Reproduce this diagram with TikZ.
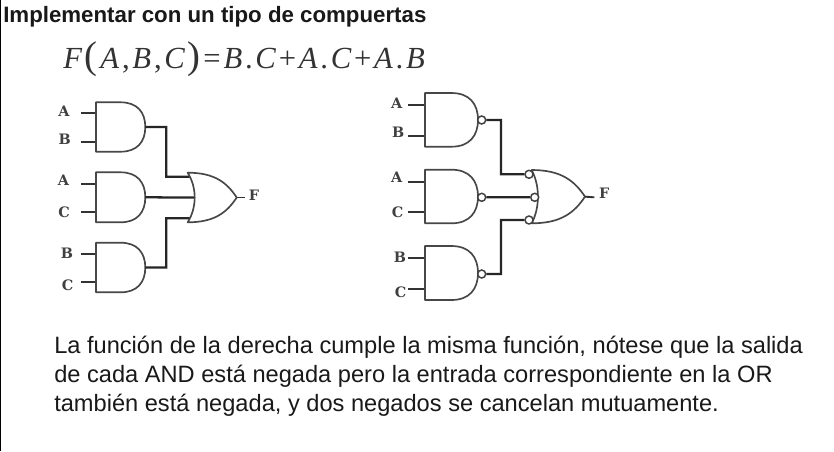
\documentclass[tikz,border=0pt]{standalone}
\usepackage{fontspec}
\setmainfont{Liberation Sans}
\newfontfamily\lblfont{DejaVu Serif}
\newfontfamily\eqfont{Liberation Serif}
\newcommand{\vi}[1]{{\itshape #1}\hspace{2.1pt}}
\newcommand{\vu}[1]{{\upshape #1}\hspace{2.1pt}}
\tikzset{x=1pt,y=-1pt,
 gate/.style={draw=black!72,line width=1.25pt,fill=white,line join=round},
 wire/.style={draw=black!85,line width=1.7pt},
 pin/.style={draw=black!80,line width=1.4pt},
 bub/.style={circle,draw=black!75,fill=white,line width=1.1pt,minimum size=6pt,inner sep=0pt},
 lbl/.style={font=\lblfont\bfseries\fontsize{10.8}{12}\selectfont,text=black!75,inner sep=0pt,anchor=center},
 para/.style={font=\fontsize{17.72}{23}\selectfont,text=black!90,inner sep=0pt,anchor=base west},
}
\newcommand{\andgate}[5]{% name,left,top,tip,bottom
 \path[gate] (#2,#3) -- ({#2+0.5*(#4-#2)},#3) .. controls ({#2+0.5*(#4-#2)+0.67*0.5*(#4-#2)},#3) and (#4,{#3+0.2*(#5-#3)}) .. (#4,{0.5*(#3+#5)}) .. controls (#4,{#5-0.2*(#5-#3)}) and ({#2+0.5*(#4-#2)+0.67*0.5*(#4-#2)},#5) .. ({#2+0.5*(#4-#2)},#5) -- (#2,#5) -- cycle;
 \coordinate (#1o) at (#4,{0.5*(#3+#5)});
}
\newcommand{\orgate}[6]{% name,backx,midx,top,tip,bottom
 \path[gate] (#2,#4) .. controls (#3,{#4+0.3*(#6-#4)}) and (#3,{#6-0.3*(#6-#4)}) .. (#2,#6)
  .. controls ({#2+0.55*(#5-#2)},#6) and ({#2+0.8*(#5-#2)},{#6-0.2*(#6-#4)}) .. (#5,{0.5*(#4+#6)})
  .. controls ({#2+0.8*(#5-#2)},{#4+0.2*(#6-#4)}) and ({#2+0.55*(#5-#2)},#4) .. (#2,#4) -- cycle;
 \coordinate (#1o) at (#5,{0.5*(#4+#6)});
}
\begin{document}
\begin{tikzpicture}
\useasboundingbox (0,0) rectangle (625.5,338.25);
\begin{scope}[scale=0.75]
\fill[white] (0,0) rectangle (834,451);
\draw[black,line width=2.2pt] (0,0) -- (0,451);
\node[inner sep=0pt,anchor=base west,font=\bfseries\fontsize{16.7}{20}\selectfont,text=black!90] (title) at (3,22.7) {Implementar con un tipo de compuertas};
\node[inner sep=0pt,anchor=base west,font=\eqfont\fontsize{23}{26}\selectfont,text=black!80] (eq) at (63,68.3) {\vi{F}{\fontsize{29}{26}\selectfont\vu{(}}\vi{A}\vu{,}\vi{B}\vu{,}\vi{C}{\fontsize{29}{26}\selectfont\vu{)}}\vu{=}\vi{B}\vu{.}\vi{C}\vu{+}\vi{A}\vu{.}\vi{C}\vu{+}\vi{A}\vu{.}\vi{B}};

% left circuit
\coordinate (li1) at (81.3,113.3); \coordinate (li2) at (81.3,141.7);
\coordinate (li3) at (81.3,183.7); \coordinate (li4) at (81.3,212);
\coordinate (li5) at (81.3,254);   \coordinate (li6) at (81.3,282.3);
\coordinate (lg1) at (96,113.3); \coordinate (lg2) at (96,141.7);
\coordinate (lg3) at (96,183.7); \coordinate (lg4) at (96,212);
\coordinate (lg5) at (96,254);   \coordinate (lg6) at (96,282.3);
\foreach \i in {1,...,6} {\draw[pin] (li\i) -- (lg\i);}
\coordinate (lor1) at (190,176.7); \coordinate (lor2) at (194.3,197.5); \coordinate (lor3) at (190,218.3);
\coordinate (lF) at (245,197.5);
\andgate{la}{96}{102.3}{145.3}{151.7}
\andgate{lb}{96}{172.3}{145.3}{222.3}
\andgate{lc}{96}{242.7}{145.3}{292.3}
\draw[wire] (lao) -| (166.3,176.7) -- (lor1);
\draw[wire] (lbo) -- (lor2);
\draw[wire] (lco) -| (166.3,218.3) -- (lor3);
\orgate{lo}{187.7}{197}{172.7}{236.7}{222.3}
\draw[pin] (loo) -- (lF);
\node[lbl] (la1) at (64,111) {A};
\node[lbl] (la2) at (64.7,139) {B};
\node[lbl] (la3) at (63.5,180) {A};
\node[lbl] (la4) at (64,212.7) {C};
\node[lbl] (la5) at (67,253.7) {B};
\node[lbl] (la6) at (67.7,285.7) {C};
\node[lbl] (la7) at (254,195) {F};

% right circuit
\coordinate (ri1) at (408.3,105);   \coordinate (ri2) at (408.3,135.7);
\coordinate (ri3) at (408.3,181.7); \coordinate (ri4) at (408.3,212.3);
\coordinate (ri5) at (408.3,258.3); \coordinate (ri6) at (408.3,289);
\coordinate (rg1) at (425,105);   \coordinate (rg2) at (425,135.7);
\coordinate (rg3) at (425,181.7); \coordinate (rg4) at (425,212.3);
\coordinate (rg5) at (425,258.3); \coordinate (rg6) at (425,289);
\foreach \i in {1,...,6} {\draw[pin] (ri\i) -- (rg\i);}
\coordinate (rF) at (594.3,197.3);
\andgate{ra}{425}{93}{478}{146.7}
\andgate{rb}{425}{169.7}{478}{223.3}
\andgate{rc}{425}{246}{478}{300}
\orgate{ro}{531.7}{540}{170}{585}{223.3}
\node[bub] (rba) at (481.7,120) {};
\node[bub] (rbb) at (481.7,197.3) {};
\node[bub] (rbc) at (481.7,274) {};
\node[bub] (rb1) at (529,174.3) {};
\node[bub] (rb2) at (534.7,197.3) {};
\node[bub] (rb3) at (529,220) {};
\draw[wire] (rba) -| (501,174.3) -- (rb1);
\draw[wire] (rbb) -- (rb2);
\draw[wire] (rbc) -| (501,220) -- (rb3);
\draw[pin] (roo) -- (rF);
\node[lbl] (ra1) at (396.7,103.3) {A};
\node[lbl] (ra2) at (398.3,132.7) {B};
\node[lbl] (ra3) at (396.7,177.7) {A};
\node[lbl] (ra4) at (397.7,212.7) {C};
\node[lbl] (ra5) at (400,257.7) {B};
\node[lbl] (ra6) at (400.7,292.3) {C};
\node[lbl] (ra7) at (604.3,193.3) {F};

\node[para] (t1) at (54,353) {La función de la derecha cumple la misma función, nótese que la salida};
\node[para] (t2) at (54,382) {de cada AND está negada pero la entrada correspondiente en la OR};
\node[para] (t3) at (54,411) {también está negada, y dos negados se cancelan mutuamente.};
\end{scope}
\end{tikzpicture}
\end{document}
